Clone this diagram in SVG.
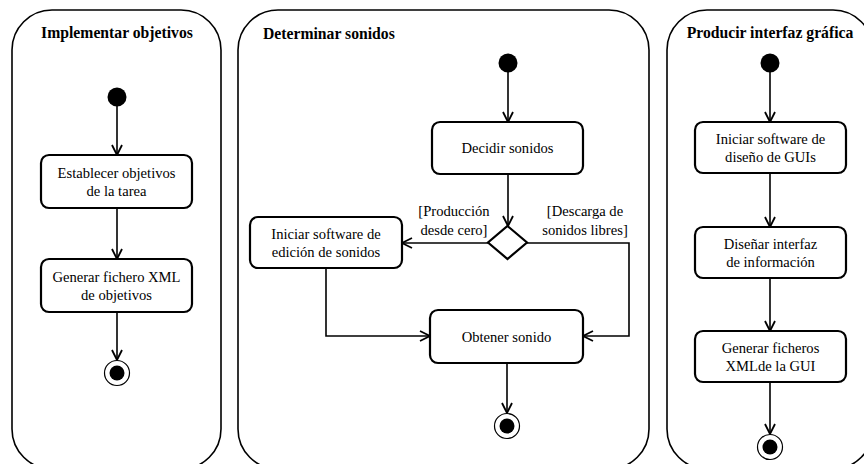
<svg xmlns="http://www.w3.org/2000/svg" width="864" height="464" viewBox="0 0 864 464">
<style>
.panel{fill:#fff;stroke:#000;stroke-width:1.6}
.box{fill:#fff;stroke:#000;stroke-width:2.2}
.t{font-family:"Liberation Serif","Times New Roman",serif;font-size:14.6px;fill:#000;text-anchor:middle}
.title{font-family:"Liberation Serif","Times New Roman",serif;font-size:15.7px;font-weight:bold;fill:#000}
.c{fill:none;stroke:#000;stroke-width:1.6}
.start{fill:#000}
.endo{fill:#fff;stroke:#000;stroke-width:1.2}
</style>
<defs>
<marker id="arr" viewBox="0 0 12 12" refX="11" refY="6" markerWidth="12" markerHeight="12" markerUnits="userSpaceOnUse" orient="auto">
<path d="M1,1 L11,6 L1,11" fill="none" stroke="#000" stroke-width="1.8"/>
</marker>
</defs>
<rect width="864" height="464" fill="#fff"/>
<g id="panel-implementar">
<rect class="panel" x="12" y="10" width="209" height="459" rx="40" ry="40"/>
<text class="title" x="117" y="38" text-anchor="middle">Implementar objetivos</text>
</g>
<g id="panel-determinar">
<rect class="panel" x="238" y="10" width="411" height="459" rx="40" ry="40"/>
<text class="title" x="263" y="39">Determinar sonidos</text>
</g>
<g id="panel-producir">
<rect class="panel" x="667" y="10" width="206" height="459" rx="40" ry="40"/>
<text class="title" x="770" y="38" text-anchor="middle">Producir interfaz gráfica</text>
</g>
<g id="connectors">
<path class="c" d="M117,106 V155" marker-end="url(#arr)"/>
<path class="c" d="M117,208 V259" marker-end="url(#arr)"/>
<path class="c" d="M117,312 V360" marker-end="url(#arr)"/>
<path class="c" d="M508,72 V122" marker-end="url(#arr)"/>
<path class="c" d="M508,174 V226" marker-end="url(#arr)"/>
<path class="c" d="M488,243 H402" marker-end="url(#arr)"/>
<path class="c" d="M527,243 H629 V336 H583" marker-end="url(#arr)"/>
<path class="c" d="M326,268 V336 H430" marker-end="url(#arr)"/>
<path class="c" d="M507,363 V413" marker-end="url(#arr)"/>
<path class="c" d="M770,72 V122" marker-end="url(#arr)"/>
<path class="c" d="M770,173 V227" marker-end="url(#arr)"/>
<path class="c" d="M770,278 V331" marker-end="url(#arr)"/>
<path class="c" d="M770,382 V434" marker-end="url(#arr)"/>
<text class="t" x="454" y="216">[Producción</text>
<text class="t" x="454" y="235">desde cero]</text>
<text class="t" x="585" y="216">[Descarga de</text>
<text class="t" x="585" y="235">sonidos libres]</text>
</g>
<g id="start-1"><circle class="start" cx="117" cy="97" r="9.5"/></g>
<g id="establecer">
<rect class="box" x="41" y="155" width="151" height="53" rx="8"/>
<text class="t" x="116.5" y="177.5">Establecer objetivos</text>
<text class="t" x="116.5" y="195.5">de la tarea</text>
</g>
<g id="generar-xml">
<rect class="box" x="41" y="259" width="151" height="53" rx="8"/>
<text class="t" x="116.5" y="281.5">Generar fichero XML</text>
<text class="t" x="116.5" y="299.5">de objetivos</text>
</g>
<g id="end-1"><circle class="endo" cx="117" cy="373" r="12.5"/><circle class="start" cx="117" cy="373" r="7.5"/></g>
<g id="start-2"><circle class="start" cx="508" cy="63" r="9.5"/></g>
<g id="decidir">
<rect class="box" x="432" y="122" width="151" height="52" rx="8"/>
<text class="t" x="507.5" y="153">Decidir sonidos</text>
</g>
<g id="decision"><polygon class="box" points="507.5,226 527,242.5 507.5,259 488,242.5"/></g>
<g id="iniciar-edicion">
<rect class="box" x="250" y="217" width="152" height="51" rx="8"/>
<text class="t" x="326" y="238.5">Iniciar software de</text>
<text class="t" x="326" y="256.5">edición de sonidos</text>
</g>
<g id="obtener">
<rect class="box" x="430" y="310" width="153" height="53" rx="8"/>
<text class="t" x="506.5" y="341.5">Obtener sonido</text>
</g>
<g id="end-2"><circle class="endo" cx="507" cy="426" r="12.5"/><circle class="start" cx="507" cy="426" r="7.5"/></g>
<g id="start-3"><circle class="start" cx="770" cy="63" r="9.5"/></g>
<g id="iniciar-gui">
<rect class="box" x="695" y="122" width="151" height="51" rx="8"/>
<text class="t" x="770.5" y="143.5">Iniciar software de</text>
<text class="t" x="770.5" y="161.5">diseño de GUIs</text>
</g>
<g id="disenar">
<rect class="box" x="695" y="227" width="151" height="51" rx="8"/>
<text class="t" x="770.5" y="248.5">Diseñar interfaz</text>
<text class="t" x="770.5" y="266.5">de información</text>
</g>
<g id="generar-gui">
<rect class="box" x="695" y="331" width="151" height="51" rx="8"/>
<text class="t" x="770.5" y="352.5">Generar ficheros</text>
<text class="t" x="770.5" y="370.5">XMLde la GUI</text>
</g>
<g id="end-3"><circle class="endo" cx="770" cy="447" r="12.5"/><circle class="start" cx="770" cy="447" r="7.5"/></g>
</svg>
